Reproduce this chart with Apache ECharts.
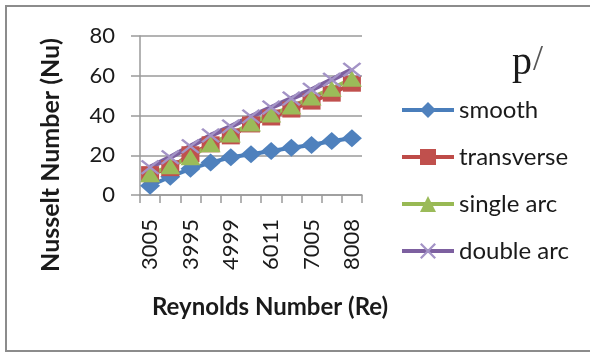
<!DOCTYPE html>
<html>
<head>
<meta charset="utf-8">
<script src="https://cdn.jsdelivr.net/npm/echarts@6/dist/echarts.min.js"></script>
<style>
  html, body { margin: 0; padding: 0; background: #fff; }
  #chart { width: 590px; height: 356px; }
</style>
</head>
<body>
<div id="chart"></div>
<script>
// Reynolds numbers along the x axis (every other one is labelled)
const reynolds = ['3005', '3504', '3995', '4502', '4999', '5497', '6011', '6508', '7005', '7496', '8008'];

// Nusselt number for each channel configuration
const smooth     = [4.7, 9.2, 13.2, 16.3, 19.0, 20.5, 22.1, 23.8, 25.2, 27.2, 28.5];
const transverse = [10.5, 13.5, 20.5, 25.5, 29.5, 35.5, 39.0, 43.0, 47.0, 51.0, 56.0];
const singleArc  = [10.5, 14.5, 19.0, 25.5, 30.5, 36.0, 40.5, 44.5, 49.0, 53.5, 58.5];
const doubleArc  = [14.0, 19.0, 24.5, 30.0, 34.5, 39.5, 44.0, 48.5, 53.0, 58.0, 63.0];

const yTicks = { min: 0, max: 80, step: 20 };

const FONT = 'Lato, "Open Sans", sans-serif';
const SERIF = '"Liberation Serif", "DejaVu Serif", serif';
const crossPath = 'path://M0,1 L1,0 L10,9 L9,10 Z M9,0 L10,1 L1,10 L0,9 Z';

function lineSeries(name, data, color, symbol, size, markColor, width) {
  return {
    name: name,
    type: 'line',
    data: data,
    symbol: symbol,
    symbolSize: size,
    showAllSymbol: true,
    lineStyle: { color: color, width: width },
    itemStyle: { color: markColor, borderWidth: 0 },
    emphasis: { disabled: true },
    animation: false
  };
}

const chart = echarts.init(document.getElementById('chart'), null, { renderer: 'canvas' });

chart.setOption({
  backgroundColor: '#ffffff',
  animation: false,
  grid: { left: 140, right: 228, top: 36, bottom: 161, containLabel: false },
  xAxis: {
    type: 'category',
    data: reynolds,
    boundaryGap: true,
    axisLine: { lineStyle: { color: '#9a9a9a', width: 1.5 } },
    axisTick: { show: true, interval: 0, length: 8, lineStyle: { color: '#9a9a9a', width: 1.5 } },
    axisLabel: { interval: 1, rotate: 90, margin: 24, color: '#1a1a1a', fontFamily: FONT, fontSize: 22 },
    splitLine: { show: false }
  },
  yAxis: {
    type: 'value',
    min: yTicks.min,
    max: yTicks.max,
    interval: yTicks.step,
    axisLine: { show: true, lineStyle: { color: '#9a9a9a', width: 1.5 } },
    axisTick: { show: true, length: 9, lineStyle: { color: '#9a9a9a', width: 1.5 } },
    axisLabel: { margin: 25, color: '#1a1a1a', fontFamily: FONT, fontSize: 22 },
    splitLine: { show: true, lineStyle: { color: '#9a9a9a', width: 1.5 } }
  },
  legend: {
    orient: 'vertical',
    left: 395,
    top: 93,
    itemWidth: 52,
    itemHeight: 20,
    itemGap: 23,
    lineStyle: { width: 4 },
    textStyle: { fontFamily: FONT, fontSize: 24, color: '#1a1a1a', lineHeight: 24 },
    data: ['smooth', 'transverse', 'single arc', 'double arc']
  },
  series: [
    lineSeries('smooth', smooth, '#4a7ebb', 'diamond', [20, 18], '#4f81bd', 4),
    lineSeries('transverse', transverse, '#be4b48', 'rect', [18, 16], '#c0504d', 4),
    lineSeries('single arc', singleArc, '#98b954', 'triangle', [20, 16], '#9bbb59', 4),
    lineSeries('double arc', doubleArc, '#7d60a0', crossPath, [19, 15], '#a393c6', 5)
  ],
  graphic: [
    {
      type: 'rect',
      shape: { x: 6, y: 6, width: 600, height: 345 },
      style: { fill: 'none', stroke: '#8c8c8c', lineWidth: 2 },
      silent: true
    },
    {
      type: 'text',
      x: 51, y: 155,
      rotation: Math.PI / 2,
      style: {
        text: 'Nusselt Number (Nu)',
        font: 'bold 25px ' + FONT,
        fill: '#1a1a1a',
        align: 'center',
        verticalAlign: 'middle'
      }
    },
    {
      type: 'text',
      x: 270, y: 307,
      style: {
        text: 'Reynolds Number (Re)',
        font: 'bold 24px ' + FONT,
        fill: '#1a1a1a',
        align: 'center',
        verticalAlign: 'middle'
      }
    },
    {
      type: 'text',
      x: 512, y: 63,
      style: { text: 'p', font: '40px ' + SERIF, fill: '#1a1a1a', verticalAlign: 'middle' }
    },
    {
      type: 'text',
      x: 533, y: 61,
      style: { text: '/', font: '36px ' + SERIF, fill: '#555555', verticalAlign: 'middle' }
    }
  ]
});
</script>
</body>
</html>
